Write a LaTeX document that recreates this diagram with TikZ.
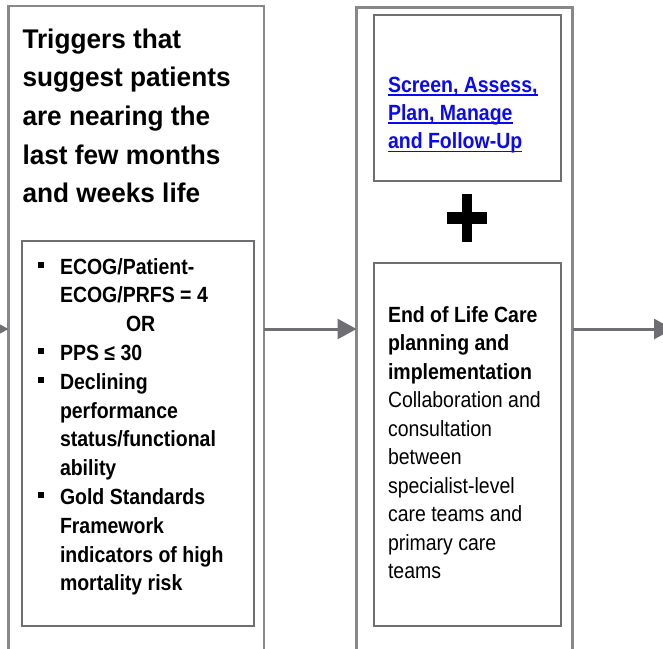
\documentclass[tikz,border=0pt]{standalone}
\usepackage{fontspec}
\setmainfont{Liberation Sans}
\newfontfamily\narrowsans[FakeStretch=0.886]{Liberation Sans}
\newfontfamily\titlesans[FakeStretch=0.97]{Liberation Sans}
\usetikzlibrary{arrows.meta}
\definecolor{outergray}{RGB}{135,135,140}
\definecolor{innergray}{RGB}{110,110,115}
\definecolor{arrowgray}{RGB}{110,110,115}
\definecolor{linkblue}{RGB}{10,10,240}
\newcommand\myul[1]{\setbox0\hbox{#1}\rlap{\rule[-3.2pt]{\wd0}{1.6pt}}\box0}
\newcommand\mybullet{\llap{\raisebox{6pt}{\rule{6pt}{6pt}}\hspace{16.5pt}}}
\tikzset{
  outerbox/.style={draw=outergray, line width=2.5pt, outer sep=0pt, inner sep=0pt, anchor=north west},
  innerbox/.style={draw=innergray, line width=2.5pt, outer sep=0pt, inner sep=0pt, anchor=north west},
  flow/.style={draw=arrowgray, line width=3pt, -{Triangle[length=19pt,width=20pt]}},
  txt/.style={anchor=base west, inner sep=0pt, outer sep=0pt}
}
\begin{document}
\begin{tikzpicture}[x=1pt,y=-1pt]
\useasboundingbox (0,0) rectangle (663,648);
% boxes
\node[outerbox, minimum width=255.5pt, minimum height=664pt] (outerL) at (8.5,6) {};
\node[innerbox, minimum width=232pt, minimum height=385pt] (innerL) at (22,241) {};
\node[outerbox, minimum width=216pt, minimum height=664pt] (outerM) at (356.5,7.5) {};
\node[innerbox, minimum width=187pt, minimum height=166pt] (innerT) at (374,15) {};
\node[innerbox, minimum width=187pt, minimum height=363pt] (innerB) at (374,263) {};
% texts
\node[txt] (title) at (22.5,48) {\vtop{\titlesans\fontsize{27}{38.7}\selectfont\bfseries
  \hbox{Triggers that}\hbox{suggest patients}\hbox{are nearing the}\hbox{last few months}\hbox{and weeks life}}};
\node[txt] (crit) at (60,274) {\vtop{\narrowsans\fontsize{22}{28.8}\selectfont\bfseries
  \hbox{\mybullet ECOG/Patient-}\hbox{ECOG/PRFS = 4}\hbox{\hspace{66pt}OR}\hbox{\mybullet PPS ≤ 30}
  \hbox{\mybullet Declining}\hbox{performance}\hbox{status/functional}\hbox{ability}
  \hbox{\mybullet Gold Standards}\hbox{Framework}\hbox{indicators of high}\hbox{mortality risk}}};
\node[txt] (link) at (388,77) {\vtop{\narrowsans\fontsize{22}{28.3}\selectfont\bfseries\color{linkblue}
  \hbox{\myul{Screen, Assess,}}\hbox{\myul{Plan, Manage}}\hbox{\myul{and Follow-Up}}}};
\node[txt] (eol) at (388,322) {\vtop{\narrowsans\fontsize{22}{28.55}\selectfont
  \hbox{\bfseries End of Life Care}\hbox{\bfseries planning and}\hbox{\bfseries implementation}
  \hbox{Collaboration and}\hbox{consultation}\hbox{between}\hbox{specialist-level}
  \hbox{care teams and}\hbox{primary care}\hbox{teams}}};
% plus sign
\fill[black] (462,194) rectangle (472,242);
\fill[black] (447,212) rectangle (487,224);
% connectors
\coordinate (ay) at (0,329);
\coordinate (inL) at (-20,329);
\coordinate (outR) at (673,329);
\draw[flow] (inL) -- (outerL.west |- ay);
\draw[flow] (outerL.east |- ay) -- (outerM.west |- ay);
\draw[flow] (outerM.east |- ay) -- (outR);
\end{tikzpicture}
\end{document}
